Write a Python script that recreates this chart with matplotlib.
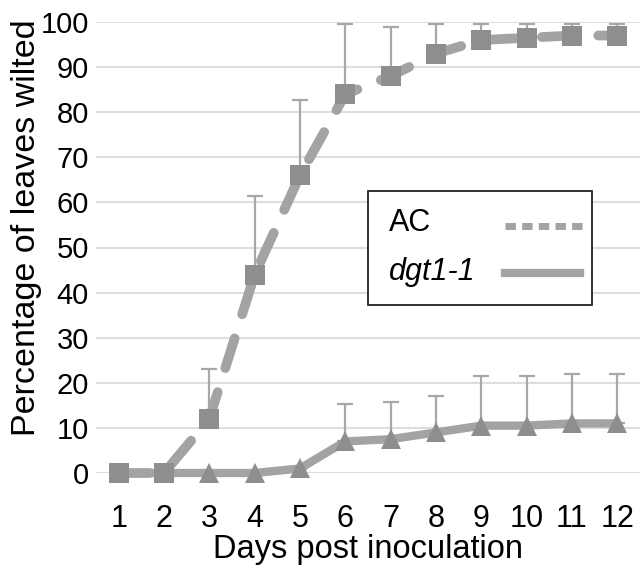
import matplotlib.pyplot as plt
import numpy as np
from matplotlib.patches import Rectangle

plt.rcParams['font.family'] = ['Liberation Sans', 'DejaVu Sans']

days = [1, 2, 3, 4, 5, 6, 7, 8, 9, 10, 11, 12]
ac_mean = [0, 0, 12, 44, 66, 84, 88, 93, 96, 96.5, 97, 97]
ac_upper = [0, 0, 23, 61.5, 82.8, 99.5, 99, 99.5, 99.5, 99.5, 99.5, 99.5]
dgt_mean = [0, 0, 0, 0, 1, 7, 7.5, 9, 10.5, 10.5, 11, 11]
dgt_upper = [0, 0, 0, 0, 1, 15.3, 15.7, 17, 21.5, 21.5, 22, 22]
series_names = ['AC', 'dgt1-1']

line_col = '#a3a3a3'
mark_col = '#8e8e8e'
err_col = '#a8a8a8'
W, H = 640, 568

fig = plt.figure(figsize=(6.4, 5.68), dpi=100)
ax = fig.add_axes([96/W, 95/H, 544/W, 451/H])

ac_err = np.array(ac_upper) - np.array(ac_mean)
dgt_err = np.array(dgt_upper) - np.array(dgt_mean)

ax.errorbar(days, ac_mean, yerr=[np.zeros(len(days)), ac_err], fmt='none',
            ecolor=err_col, elinewidth=1.6, capsize=6, capthick=1.6, zorder=2)
ax.errorbar(days, dgt_mean, yerr=[np.zeros(len(days)), dgt_err], fmt='none',
            ecolor=err_col, elinewidth=1.6, capsize=6, capthick=1.6, zorder=2)

ax.plot(days, dgt_mean, color=line_col, lw=6, solid_capstyle='round', zorder=3)
ax.plot(days, dgt_mean, linestyle='none', marker='^', ms=15, color=mark_col,
        markeredgewidth=0, zorder=4)
ax.plot(days, ac_mean, color=line_col, lw=7, dashes=(3.2, 2.6),
        dash_capstyle='round', zorder=5)
ax.plot(days, ac_mean, linestyle='none', marker='s', ms=14.5, color=mark_col,
        markeredgewidth=0, zorder=6)

ax.set_xlim(0.5, 12.5)
ax.set_ylim(0, 100)
ax.set_xticks(days)
ax.set_yticks(range(0, 101, 10))
ax.tick_params(axis='x', labelsize=22, length=0, pad=22)
ax.tick_params(axis='y', labelsize=21, length=0, pad=5)
for s in ax.spines.values():
    s.set_visible(False)
ax.grid(axis='y', color='#dedede', lw=1.5)
ax.set_axisbelow(True)
for ln in ax.lines:
    ln.set_clip_on(False)
for c in ax.collections:
    c.set_clip_on(False)

ax.set_xlabel('Days post inoculation', fontsize=23.5, labelpad=0)
ax.set_ylabel('Percentage of leaves wilted', fontsize=24.5)
ax.yaxis.set_label_coords(-0.1, 0.545)

# legend box drawn by hand to keep text left and line on the right
tf = fig.transFigure
fig.patches.append(Rectangle((368/W, 1 - 305/H), 224/W, 114/H, transform=tf,
                             facecolor='white', edgecolor='#222222', lw=1.3, zorder=10))
fig.text(389/W, 1 - 223/H, series_names[0], fontsize=22, va='center', ha='left', zorder=11)
fig.text(389/W, 1 - 272/H, series_names[1], fontsize=22, va='center', ha='left',
         style='italic', zorder=11)
fig.add_artist(plt.Line2D([505/W, 583/W], [1 - 226/H, 1 - 226/H], transform=tf,
                          color=line_col, lw=5, dashes=(1.5, 0.9), zorder=11))
fig.add_artist(plt.Line2D([505/W, 580/W], [1 - 273/H, 1 - 273/H], transform=tf,
                          color=line_col, lw=6, zorder=11))

fig.savefig('out.png', dpi=100)
